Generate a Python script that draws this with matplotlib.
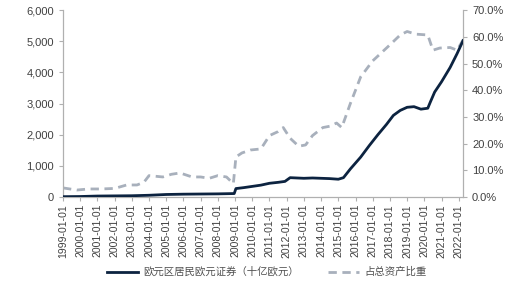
import matplotlib
matplotlib.use("Agg")
import matplotlib.pyplot as plt
from matplotlib.lines import Line2D

plt.rcParams['font.family'] = ['Liberation Sans', 'Noto Sans CJK SC', 'DejaVu Sans']

# euro area residents' euro securities, billion EUR
t_sec = [1999.0, 2000.0, 2001.0, 2002.0, 2003.0, 2004.0, 2005.0, 2006.0, 2007.0,
         2008.0, 2008.95, 2009.05, 2009.5, 2010.0, 2010.5, 2011.0, 2011.5, 2011.9,
         2012.2, 2012.6, 2013.0, 2013.5, 2014.0, 2014.5, 2015.0, 2015.3, 2015.7,
         2016.3, 2016.8, 2017.3, 2017.8, 2018.2, 2018.6, 2019.0, 2019.4, 2019.8,
         2020.2, 2020.35, 2020.6, 2021.0, 2021.5, 2021.9, 2022.25]
sec = [10, 15, 30, 35, 40, 55, 80, 90, 95,
       100, 110, 270, 300, 340, 380, 440, 470, 500,
       620, 610, 600, 610, 600, 590, 570, 620, 900,
       1280, 1650, 2000, 2330, 2620, 2780, 2880, 2900, 2820,
       2850, 3050, 3370, 3700, 4160, 4600, 5020]

# share of total assets, %
t_pct = [1999.0, 1999.8, 2000.5, 2001.2, 2002.0, 2002.7, 2003.3, 2003.7, 2004.0,
         2004.8, 2005.3, 2005.8, 2006.5, 2007.0, 2007.5, 2008.0, 2008.5, 2008.9,
         2009.05, 2009.4, 2009.9, 2010.5, 2011.0, 2011.5, 2011.8, 2012.2, 2012.7,
         2013.1, 2013.5, 2014.1, 2014.5, 2014.9, 2015.2, 2015.7, 2016.3, 2017.0,
         2017.5, 2018.0, 2018.6, 2019.0, 2019.5, 2020.2, 2020.5, 2020.9, 2021.5,
         2021.9, 2022.25]
pct = [3.4, 2.6, 3.0, 3.0, 3.2, 4.5, 4.5, 5.5, 8.0,
       7.5, 8.5, 9.0, 7.5, 7.5, 7.0, 8.0, 7.5, 5.0,
       15.0, 16.5, 17.6, 18.0, 23.0, 24.5, 26.0, 22.0, 19.0,
       19.5, 23.0, 26.0, 26.5, 27.7, 26.0, 35.0, 45.0, 51.0,
       54.0, 57.0, 60.7, 62.0, 61.0, 60.7, 55.0, 55.8, 56.0,
       55.0, 58.8]

years = list(range(1999, 2023))
year_labels = [f"{y}-01-01" for y in years]
legend_labels = ["欧元区居民欧元证券（十亿欧元）", "占总资产比重"]

navy = "#0c2340"
grey = "#a8b0bc"
tick_col = "#404040"
spine_col = "#b0b0b0"

fig = plt.figure(figsize=(5.25, 2.98), dpi=100)
ax = fig.add_axes([0.12, 0.339, 0.762, 0.627])
ax2 = ax.twinx()

ax.plot(t_sec, sec, color=navy, lw=2.0, zorder=3)
ax2.plot(t_pct, pct, color=grey, lw=2.0, ls=(0, (3, 2)))
ax.set_zorder(ax2.get_zorder() + 1)
ax.patch.set_visible(False)

ax.set_xlim(1999, 2022.25)
ax.set_ylim(0, 6000)
ax2.set_ylim(0, 70)
ax.set_yticks(range(0, 6001, 1000))
ax.set_yticklabels([f"{v:,}" for v in range(0, 6001, 1000)])
ax2.set_yticks(range(0, 71, 10))
ax2.set_yticklabels([f"{v:.1f}%" for v in range(0, 71, 10)])
ax.set_xticks(years)
ax.set_xticklabels(year_labels, rotation=90)

for a in (ax, ax2):
    for s in a.spines.values():
        s.set_color(spine_col)
        s.set_linewidth(0.8)
    a.spines['top'].set_visible(False)
    a.tick_params(colors=spine_col, labelcolor=tick_col, labelsize=8, length=3, width=0.8)
ax.tick_params(axis='x', labelsize=7.5, pad=2)

handles = [Line2D([], [], color=navy, lw=2.0),
           Line2D([], [], color=grey, lw=2.0, ls=(0, (3, 2)))]
leg = fig.legend(handles, legend_labels, loc='center', bbox_to_anchor=(0.508, 0.087),
                 ncol=2, frameon=False, handlelength=3.0, columnspacing=2.8,
                 handletextpad=0.5,
                 prop={'family': ['Noto Sans CJK SC', 'DejaVu Sans'], 'size': 7.5})
for txt in leg.get_texts():
    txt.set_color("#505050")

fig.savefig("out.png", dpi=100)
